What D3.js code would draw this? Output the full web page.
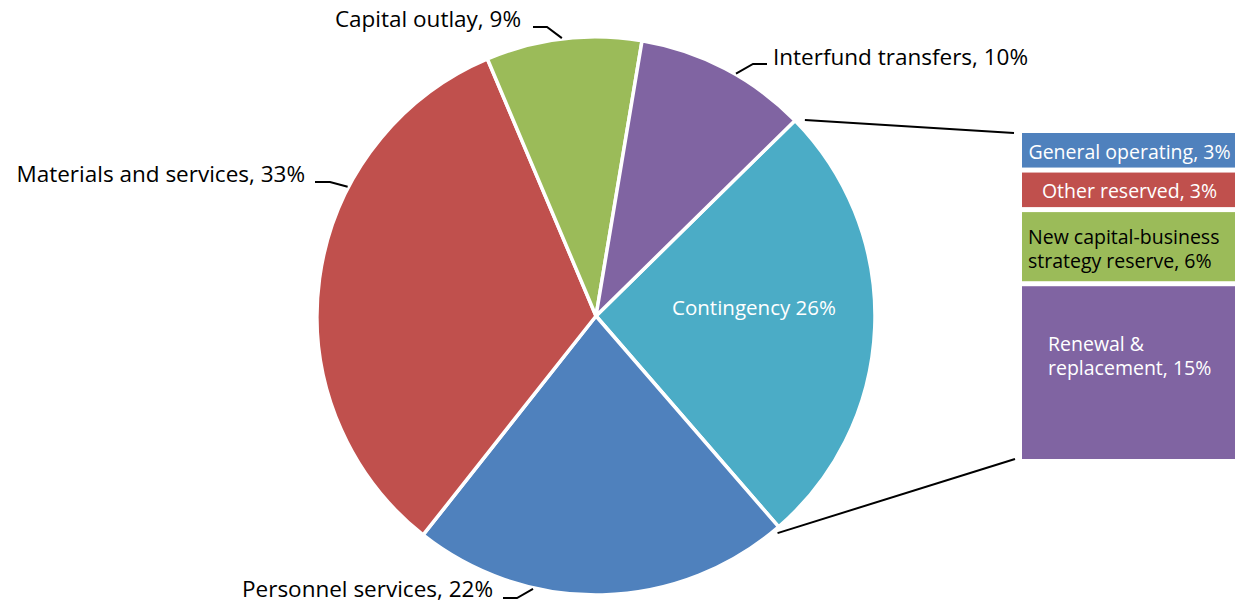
<!DOCTYPE html>
<html>
<head>
<meta charset="utf-8">
<script src="https://cdn.jsdelivr.net/npm/d3@7"></script>
<style>
  body { margin: 0; background: #fff; }
  svg { font-family: "Open Sans", "Noto Sans", sans-serif; }
</style>
</head>
<body>
<div id="chart"></div>
<script>
// pie slices, clockwise starting at the contingency slice
var sliceNames = ["Contingency", "Personnel services", "Materials and services", "Capital outlay", "Interfund transfers"];
var slicePct = [26, 22, 33, 9, 10];
var sliceColors = ["#4BACC6", "#4F81BD", "#C0504D", "#9BBB59", "#8064A2"];

// breakdown of the contingency slice
var reserveNames = ["General operating, 3%", "Other reserved, 3%", "New capital-business|strategy reserve, 6%", "Renewal &|replacement, 15%"];
var reservePct = [3, 3, 6, 15];
var reserveColors = ["#4F81BD", "#C0504D", "#9BBB59", "#8064A2"];

var width = 1247, height = 603;
var cx = 596, cy = 316, radius = 279;
var start = 45.5;

var svg = d3.select("#chart").append("svg")
    .attr("width", width)
    .attr("height", height);

var pie = d3.pie()
    .sort(null)
    .value(function(d) { return d; })
    .startAngle(start * Math.PI / 180)
    .endAngle((start + 360) * Math.PI / 180);

var arcs = pie(slicePct);
var arc = d3.arc().innerRadius(0).outerRadius(radius);

var g = svg.append("g").attr("transform", "translate(" + cx + "," + cy + ")");

g.selectAll("path.slice")
    .data(arcs)
    .enter()
    .append("path")
    .attr("class", "slice")
    .attr("d", arc)
    .attr("fill", function(d, i) { return sliceColors[i]; })
    .attr("stroke", "#fff")
    .attr("stroke-width", 3.5)
    .attr("stroke-linejoin", "round");

// point on the rim at angle a (degrees, clockwise from 12 o'clock)
function rim(a, r) {
  var t = a * Math.PI / 180;
  return [cx + r * Math.sin(t), cy - r * Math.cos(t)];
}

// outside labels: text anchor spot, elbow, rim angle
var labelLayout = [
  null,
  {x: 493, y: 597, anchor: "end", elbow: [503, 598, 517, 598], angle: 193},
  {x: 305, y: 182, anchor: "end", elbow: [315, 182, 330, 182], angle: 297.5},
  {x: 521, y: 27, anchor: "end", elbow: [533, 27, 547, 27], angle: 353},
  {x: 773, y: 65, anchor: "start", elbow: [767, 64, 753, 64], angle: 30}
];

arcs.forEach(function(d, i) {
  var L = labelLayout[i];
  if (!L) return;
  var p = rim(L.angle, radius + 1);
  svg.append("polyline")
      .attr("points", [[L.elbow[0], L.elbow[1]], [L.elbow[2], L.elbow[3]], p].map(function(q) { return q.join(","); }).join(" "))
      .attr("fill", "none")
      .attr("stroke", "#000")
      .attr("stroke-width", 2);
  svg.append("text")
      .attr("x", L.x)
      .attr("y", L.y)
      .attr("text-anchor", L.anchor)
      .attr("font-size", 22.5)
      .attr("fill", "#000")
      .text(sliceNames[i] + ", " + slicePct[i] + "%");
});

// label inside the contingency slice
svg.append("text")
    .attr("x", 754)
    .attr("y", 315)
    .attr("text-anchor", "middle")
    .attr("font-size", 20.5)
    .attr("fill", "#fff")
    .text(sliceNames[0] + " " + slicePct[0] + "%");

// stacked breakdown bar
var barX = 1022, barW = 213, barTop = 133, gap = 5;
var totalPct = d3.sum(reservePct);
var h = d3.scaleLinear()
    .domain([0, totalPct])
    .range([0, 459 - barTop - gap * (reservePct.length - 1)]);

var y0 = barTop;
var segs = reservePct.map(function(v, i) {
  var s = {y: y0, h: h(v), i: i};
  y0 += h(v) + gap;
  return s;
});

svg.selectAll("rect.seg")
    .data(segs)
    .enter()
    .append("rect")
    .attr("class", "seg")
    .attr("x", barX)
    .attr("y", function(d) { return d.y; })
    .attr("width", barW)
    .attr("height", function(d) { return d.h; })
    .attr("fill", function(d) { return reserveColors[d.i]; });

var segText = [
  {x: barX + barW / 2 + 1, anchor: "middle", fill: "#fff", dy: 9},
  {x: barX + barW / 2 + 1, anchor: "middle", fill: "#fff", dy: 8},
  {x: barX + 6, anchor: "start", fill: "#000", dy: 9.5},
  {x: barX + 26, anchor: "start", fill: "#fff", dy: -9.5}
];

// one text per line so each line sits on its own baseline
segs.forEach(function(s, i) {
  var lines = reserveNames[i].split("|");
  var lh = 24;
  var mid = s.y + s.h / 2 + segText[i].dy;
  lines.forEach(function(line, k) {
    svg.append("text")
        .attr("x", segText[i].x)
        .attr("y", mid + (k - (lines.length - 1) / 2) * lh)
        .attr("text-anchor", segText[i].anchor)
        .attr("font-size", 19.5)
        .attr("fill", segText[i].fill)
        .text(line);
  });
});

// connector lines from pie to bar
var topPt = rim(start + 1.3, radius + 7.5);
var botPt = rim(arcs[0].endAngle * 180 / Math.PI + 1, radius + 4);
svg.append("line")
    .attr("x1", topPt[0]).attr("y1", topPt[1])
    .attr("x2", 1014).attr("y2", 133)
    .attr("stroke", "#000").attr("stroke-width", 2);
svg.append("line")
    .attr("x1", botPt[0]).attr("y1", botPt[1])
    .attr("x2", 1015).attr("y2", 459)
    .attr("stroke", "#000").attr("stroke-width", 2);
</script>
</body>
</html>
